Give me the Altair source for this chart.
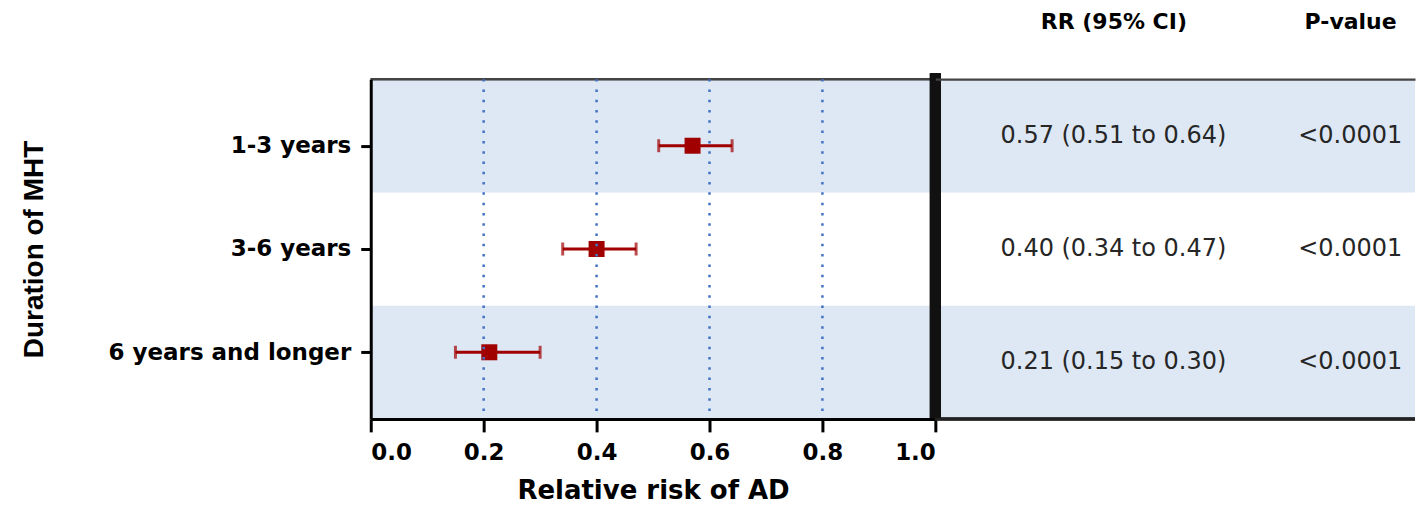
import altair as alt
import pandas as pd

# ---- data ----
groups = ["1-3 years", "3-6 years", "6 years and longer"]
rr = [0.57, 0.40, 0.21]
ci_low = [0.51, 0.34, 0.15]
ci_high = [0.64, 0.47, 0.30]
p_values = ["<0.0001", "<0.0001", "<0.0001"]
x_ticks = [0.0, 0.2, 0.4, 0.6, 0.8, 1.0]
grid_values = [0.2, 0.4, 0.6, 0.8]
col_headers = ["RR (95% CI)", "P-value"]

rr_text = [f"{r:.2f} ({l:.2f} to {h:.2f})" for r, l, h in zip(rr, ci_low, ci_high)]

df = pd.DataFrame({"group": groups, "rr": rr, "lo": ci_low, "hi": ci_high})
grid_df = pd.DataFrame({"g": grid_values})
table_df = pd.DataFrame({
    "group": groups * 2,
    "column": [col_headers[0]] * 3 + [col_headers[1]] * 3,
    "text": rr_text + p_values,
})

# ---- styling ----
W_L, W_R, H = 565, 480, 340
RED = "#A00000"
BAND = "#DDE8F4"
BOLD = "DejaVu Sans"

band_y = alt.Y("group:N", sort=groups,
               scale=alt.Scale(type="band", domain=groups, paddingInner=0, paddingOuter=0),
               axis=None)
point_y = alt.Y("group:N", sort=groups,
                scale=alt.Scale(type="point", domain=groups, padding=0.645),
                axis=alt.Axis(title="Duration of MHT", orient="left",
                              labelFont=BOLD, labelFontWeight="bold", labelFontSize=23,
                              labelColor="black", labelPadding=10, labelLimit=400,
                              tickSize=10, tickWidth=3, tickColor="black",
                              domainColor="black", domainWidth=3,
                              titleFont="Liberation Sans", titleFontWeight="bold",
                              titleFontSize=28, titleColor="black",
                              titleX=-336, titleY=H / 2, titleAngle=270,
                              titleAlign="center", titleBaseline="middle",
                              zindex=1))
x_enc = alt.X("rr:Q", scale=alt.Scale(domain=[0, 1], nice=False),
              axis=alt.Axis(values=x_ticks, format=".1f", title="Relative risk of AD",
                            grid=False, labelFont=BOLD, labelFontWeight="bold",
                            labelFontSize=23, labelColor="black", labelPadding=10,
                            tickSize=13, tickWidth=3, tickColor="black",
                            domainColor="black", domainWidth=3,
                            titleFont=BOLD, titleFontWeight="bold", titleFontSize=26,
                            titleColor="black", titlePadding=13, zindex=1))

shaded = lambda c: c.transform_window(idx="row_number()").transform_filter("datum.idx % 2 == 1")

# ---- left panel: forest plot ----
bg_left = shaded(alt.Chart(df)).mark_rect(color=BAND).encode(
    x=alt.value(0), x2=alt.value(W_L), y=band_y)
top_left = alt.Chart(df).mark_rule(color="#444444", strokeWidth=2.5).encode(
    x=alt.value(0), x2=alt.value(W_L), y=alt.value(0))

whisk = alt.Chart(df).mark_rule(color=RED, strokeWidth=3).encode(
    x=alt.X("lo:Q"), x2="hi:Q", y=point_y)
cap_lo = alt.Chart(df).mark_tick(color=RED, thickness=3, size=13).encode(
    x="lo:Q", y=point_y)
cap_hi = alt.Chart(df).mark_tick(color=RED, thickness=3, size=13).encode(
    x="hi:Q", y=point_y)
square = alt.Chart(df).mark_square(color=RED, size=256, opacity=1).encode(
    x=x_enc, y=point_y)
grid = alt.Chart(grid_df).mark_rule(color="#4472C4", strokeWidth=2.5,
                                    strokeDash=[2.5, 7.8]).encode(x="g:Q")

pts = alt.layer(square, whisk, cap_lo, cap_hi, grid)
left = alt.layer(bg_left, top_left, pts).resolve_scale(y="independent").properties(
    width=W_L, height=H)

# ---- right panel: table ----
col_x = alt.X("column:N", sort=col_headers,
              scale=alt.Scale(type="point", padding=0.513, align=0.733),
              axis=alt.Axis(orient="top", title=None, ticks=False, tickSize=0,
                            labelAngle=0, labelFont=BOLD, labelFontWeight="bold",
                            labelFontSize=22, labelColor="black", labelPadding=46,
                            domainColor="#444444", domainWidth=2.5, zindex=1))
bg_right = shaded(alt.Chart(df)).mark_rect(color=BAND).encode(
    x=alt.value(0), x2=alt.value(W_R), y=band_y)
txt = alt.Chart(table_df).mark_text(font="DejaVu Sans", fontSize=24, color="#262626",
                                    align="center", baseline="middle").encode(
    x=col_x, y=band_y, text="text:N")
bottom_right = alt.Chart(df).mark_rule(color="#222222", strokeWidth=3).encode(
    x=alt.value(0), x2=alt.value(W_R), y=alt.value(H))
bar = alt.Chart(df).mark_rule(color="#111111", strokeWidth=11).encode(
    x=alt.value(0), y=alt.value(-6), y2=alt.value(H - 1))
right = alt.layer(bg_right, txt, bottom_right, bar).properties(width=W_R, height=H)

chart = alt.hconcat(left, right, spacing=0, bounds="flush").properties(
    padding={"left": 13, "top": 2, "right": 0, "bottom": 0}
).configure_view(stroke=None)

chart.save("out.html", embed_options={"renderer": "svg", "actions": False})
